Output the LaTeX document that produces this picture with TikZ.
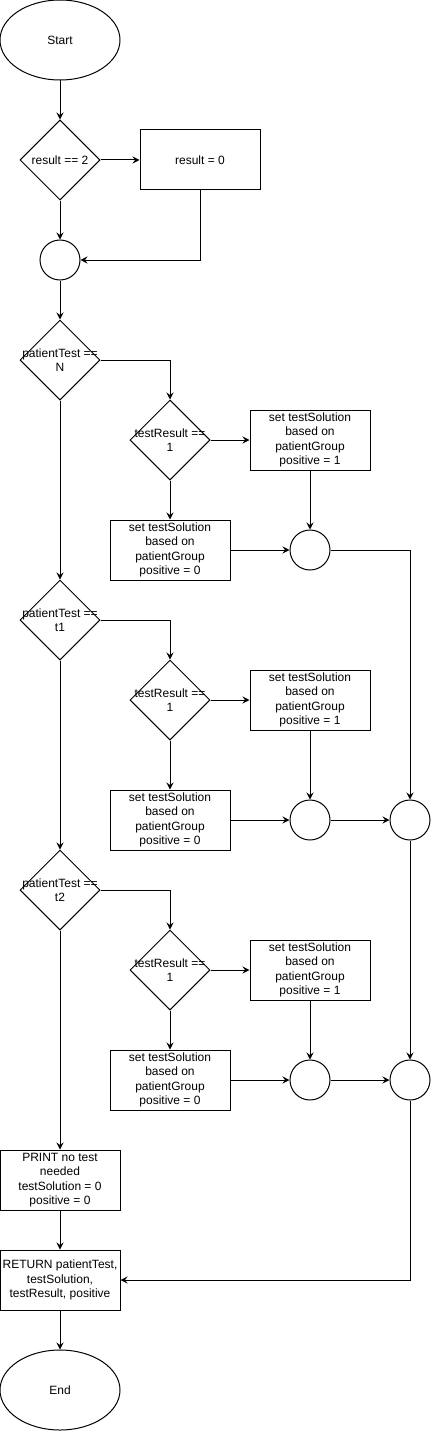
\documentclass[tikz,border=0pt]{standalone}
\usepackage{fontspec}
\setmainfont{Liberation Sans}
\usepackage{tikz}
\usetikzlibrary{shapes.geometric}
\usetikzlibrary{arrows.meta}

\begin{document}
\begin{tikzpicture}
    [x=1pt, y=-1pt, line width=1pt,
    every node/.style={font=\fontsize{12}{14.5}\selectfont, align=center},
    terminal/.style={draw, ellipse, minimum width=120pt, minimum height=80pt, inner sep=0pt},
    decision/.style={draw, diamond, minimum width=80pt, minimum height=80pt, inner sep=0pt},
    dtext/.style={inner sep=0pt},
    process/.style={draw, rectangle, minimum width=120pt, minimum height=60pt, inner sep=1pt},
    junction/.style={draw, circle, minimum size=40pt, inner sep=0pt},
    arr/.style={-{Stealth[length=7pt, width=7pt, inset=2.5pt]}}]

    \useasboundingbox (0,0) rectangle (431,1431);

    % Draw the start and the first check
    \node[terminal] (start) at (60,40) {Start};
    \node[decision, label={[dtext]center:result == 2}] (d0) at (60,160) {};
    \node[process] (r0) at (200,160) {result = 0};
    \node[junction] (j0) at (60,260) {};

    % Draw the N branch
    \node[decision, label={[dtext]center:patientTest ==\\N}] (dN) at (60,360) {};
    \node[decision, label={[dtext]center:testResult ==\\1}] (tN) at (170,440) {};
    \node[process] (pN1) at (310,440) {set testSolution\\based on\\patientGroup\\positive = 1};
    \node[process] (pN0) at (170,550) {set testSolution\\based on\\patientGroup\\positive = 0};
    \node[junction] (jN) at (310,550) {};

    % Draw the t1 branch
    \node[decision, label={[dtext]center:patientTest ==\\t1}] (d1) at (60,620) {};
    \node[decision, label={[dtext]center:testResult ==\\1}] (t1) at (170,700) {};
    \node[process] (p11) at (310,700) {set testSolution\\based on\\patientGroup\\positive = 1};
    \node[process] (p10) at (170,820) {set testSolution\\based on\\patientGroup\\positive = 0};
    \node[junction] (j1) at (310,820) {};
    \node[junction] (m1) at (410,820) {};

    % Draw the t2 branch
    \node[decision, label={[dtext]center:patientTest ==\\t2}] (d2) at (60,890) {};
    \node[decision, label={[dtext]center:testResult ==\\1}] (t2) at (170,970) {};
    \node[process] (p21) at (310,970) {set testSolution\\based on\\patientGroup\\positive = 1};
    \node[process] (p20) at (170,1080) {set testSolution\\based on\\patientGroup\\positive = 0};
    \node[junction] (j2) at (310,1080) {};
    \node[junction] (m2) at (410,1080) {};

    % Draw the end
    \node[process] (print) at (60,1180) {PRINT no test\\needed\\testSolution = 0\\positive = 0};
    \node[process] (ret) at (60,1280) {RETURN patientTest,\\testSolution,\\testResult, positive};
    \node[terminal] (stop) at (60,1390) {End};

    % Connect the nodes
    \draw[arr] (start) -- (d0);
    \draw[arr] (d0) -- (r0);
    \draw[arr] (d0) -- (j0);
    \draw[arr] (r0.south) |- (j0.east);
    \draw[arr] (j0) -- (dN);

    \draw[arr] (dN.east) -| (tN.north);
    \draw[arr] (tN) -- (pN1);
    \draw[arr] (tN) -- (pN0);
    \draw[arr] (pN1) -- (jN);
    \draw[arr] (pN0) -- (jN);
    \draw[arr] (jN.east) -| (m1.north);
    \draw[arr] (dN) -- (d1);

    \draw[arr] (d1.east) -| (t1.north);
    \draw[arr] (t1) -- (p11);
    \draw[arr] (t1) -- (p10);
    \draw[arr] (p11) -- (j1);
    \draw[arr] (p10) -- (j1);
    \draw[arr] (j1) -- (m1);
    \draw[arr] (d1) -- (d2);

    \draw[arr] (d2.east) -| (t2.north);
    \draw[arr] (t2) -- (p21);
    \draw[arr] (t2) -- (p20);
    \draw[arr] (p21) -- (j2);
    \draw[arr] (p20) -- (j2);
    \draw[arr] (j2) -- (m2);
    \draw[arr] (m1) -- (m2);

    \draw[arr] (d2) -- (print);
    \draw[arr] (print) -- (ret);
    \draw[arr] (m2.south) |- (ret.east);
    \draw[arr] (ret) -- (stop);

\end{tikzpicture}
\end{document}
